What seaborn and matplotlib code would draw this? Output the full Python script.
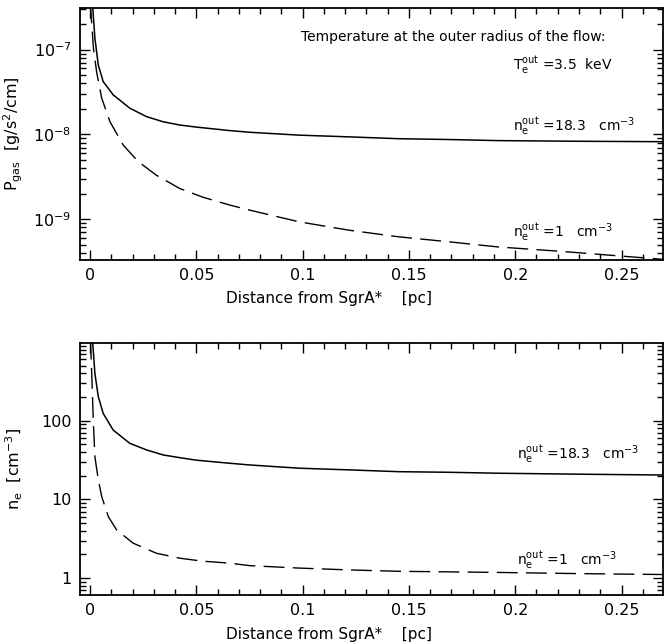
import numpy as np
import pandas as pd
import seaborn as sns
import matplotlib
matplotlib.use("Agg")
import matplotlib.pyplot as plt
from matplotlib.ticker import FixedLocator, FuncFormatter, LogLocator, NullFormatter

# ---------------- data ----------------
# Top panel: gas pressure [g/s^2/cm]
x_p_hi = [0.0011, 0.0013, 0.0023, 0.0039, 0.0062, 0.0109, 0.0187, 0.0266, 0.0344, 0.0422,
          0.050, 0.0656, 0.075, 0.0984, 0.122, 0.145, 0.169, 0.192, 0.230, 0.270]
p_hi = [3.6e-7, 3.1e-7, 1.37e-7, 6.6e-8, 4.2e-8, 2.93e-8, 2.04e-8, 1.62e-8, 1.41e-8, 1.29e-8,
        1.22e-8, 1.11e-8, 1.06e-8, 9.8e-9, 9.35e-9, 8.9e-9, 8.7e-9, 8.45e-9, 8.3e-9, 8.2e-9]

x_p_lo = [0.0002, 0.0003, 0.0016, 0.0031, 0.0055, 0.0094, 0.0156, 0.0226, 0.0312, 0.0422,
          0.0530, 0.0656, 0.075, 0.0984, 0.122, 0.145, 0.169, 0.192, 0.220, 0.245, 0.270]
p_lo = [3.6e-7, 3.1e-7, 1.05e-7, 5.5e-8, 2.68e-8, 1.41e-8, 7.5e-9, 4.8e-9, 3.3e-9, 2.3e-9,
        1.82e-9, 1.47e-9, 1.28e-9, 9.3e-10, 7.4e-10, 6.2e-10, 5.4e-10, 4.7e-10, 4.2e-10,
        3.75e-10, 3.35e-10]

# Bottom panel: electron density [cm^-3]
x_n_hi = [0.0011, 0.0013, 0.0023, 0.0039, 0.0062, 0.0109, 0.0187, 0.0266, 0.0344, 0.0422,
          0.050, 0.0656, 0.075, 0.0984, 0.122, 0.145, 0.169, 0.192, 0.230, 0.270]
n_hi = [1100, 960, 400, 202, 124, 76, 51.6, 42.5, 36.7, 33.9,
        31.5, 28.8, 27.4, 24.9, 23.7, 22.5, 22.1, 21.5, 20.9, 20.4]

x_n_lo = [0.0002, 0.0003, 0.0008, 0.0016, 0.0023, 0.0039, 0.0055, 0.0086, 0.0125, 0.0203,
          0.0312, 0.0422, 0.0530, 0.0656, 0.075, 0.0984, 0.122, 0.145, 0.169, 0.192,
          0.230, 0.270]
n_lo = [1100, 960, 400, 93, 35, 17.7, 10.9, 6.05, 4.1, 2.78,
        2.07, 1.79, 1.64, 1.55, 1.44, 1.34, 1.27, 1.22, 1.20, 1.18,
        1.14, 1.11]

x_ticks = [0, 0.05, 0.1, 0.15, 0.2, 0.25]

# ---------------- style ----------------
sns.set_style("ticks")
plt.rcParams['font.family'] = ['DejaVu Sans']
plt.rcParams['mathtext.fontset'] = 'dejavusans'
for k in ('text.color', 'axes.labelcolor', 'xtick.color', 'ytick.color'):
    plt.rcParams[k] = 'black'

fig = plt.figure(figsize=(6.65, 6.44), dpi=100)
ax1 = fig.add_axes([0.1203, 0.5963, 0.8767, 0.3913])
ax2 = fig.add_axes([0.1203, 0.0761, 0.8767, 0.3918])

dash = (0, (15, 6))
for ax, (xa, ya, xb, yb) in zip(
        (ax1, ax2),
        ((x_p_hi, p_hi, x_p_lo, p_lo), (x_n_hi, n_hi, x_n_lo, n_lo))):
    sns.lineplot(x=xa, y=ya, ax=ax, color='black', linewidth=1.1)
    sns.lineplot(x=xb, y=yb, ax=ax, color='black', linewidth=1.0, linestyle=dash)
    ax.set_yscale('log')
    ax.set_xlim(-0.0047, 0.2695)
    ax.xaxis.set_major_locator(FixedLocator(x_ticks))
    ax.xaxis.set_minor_locator(FixedLocator(np.arange(0, 0.27, 0.01)))
    ax.xaxis.set_major_formatter(FuncFormatter(lambda v, p: '%g' % v))
    ax.yaxis.set_minor_locator(LogLocator(base=10, subs=np.arange(2, 10), numticks=20))
    ax.yaxis.set_minor_formatter(NullFormatter())
    ax.tick_params(which='both', direction='in', top=True, right=True, width=1.0,
                   labelsize=11.5, colors='black')
    ax.tick_params(which='major', length=7.5, pad=6)
    ax.tick_params(which='minor', length=4)
    for s in ax.spines.values():
        s.set_linewidth(1.3)
        s.set_color('black')
    ax.set_xlabel('Distance from SgrA*    [pc]', fontsize=11)
    ax.xaxis.set_label_coords(0.427, -0.125)

ax1.set_ylim(3.3e-10, 3.1e-7)
ax2.set_ylim(0.61, 980)
ax2.yaxis.set_major_formatter(FuncFormatter(lambda v, p: '%g' % v))

ax1.set_ylabel(r'P$_{\rm gas}$  [g/s$^2$/cm]', fontsize=11.5)
ax2.set_ylabel(r'n$_{\rm e}$  [cm$^{-3}$]', fontsize=11.5)
ax1.yaxis.set_label_coords(-0.095, 0.5)
ax2.yaxis.set_label_coords(-0.095, 0.5)

fs = 10
ax1.text(0.379, 0.885, 'Temperature at the outer radius of the flow:', transform=ax1.transAxes,
         fontsize=fs, va='center', ha='left')
ax1.text(0.743, 0.774, r'T$_{\rm e}^{\rm out}$ =3.5  keV', transform=ax1.transAxes,
         fontsize=fs, va='center', ha='left')
ax1.text(0.743, 0.528, r'n$_{\rm e}^{\rm out}$ =18.3   cm$^{-3}$', transform=ax1.transAxes,
         fontsize=fs, va='center', ha='left')
ax1.text(0.743, 0.107, r'n$_{\rm e}^{\rm out}$ =1   cm$^{-3}$', transform=ax1.transAxes,
         fontsize=fs, va='center', ha='left')
ax2.text(0.749, 0.555, r'n$_{\rm e}^{\rm out}$ =18.3   cm$^{-3}$', transform=ax2.transAxes,
         fontsize=fs, va='center', ha='left')
ax2.text(0.749, 0.135, r'n$_{\rm e}^{\rm out}$ =1   cm$^{-3}$', transform=ax2.transAxes,
         fontsize=fs, va='center', ha='left')

fig.savefig('out.png', dpi=100, facecolor='white')
